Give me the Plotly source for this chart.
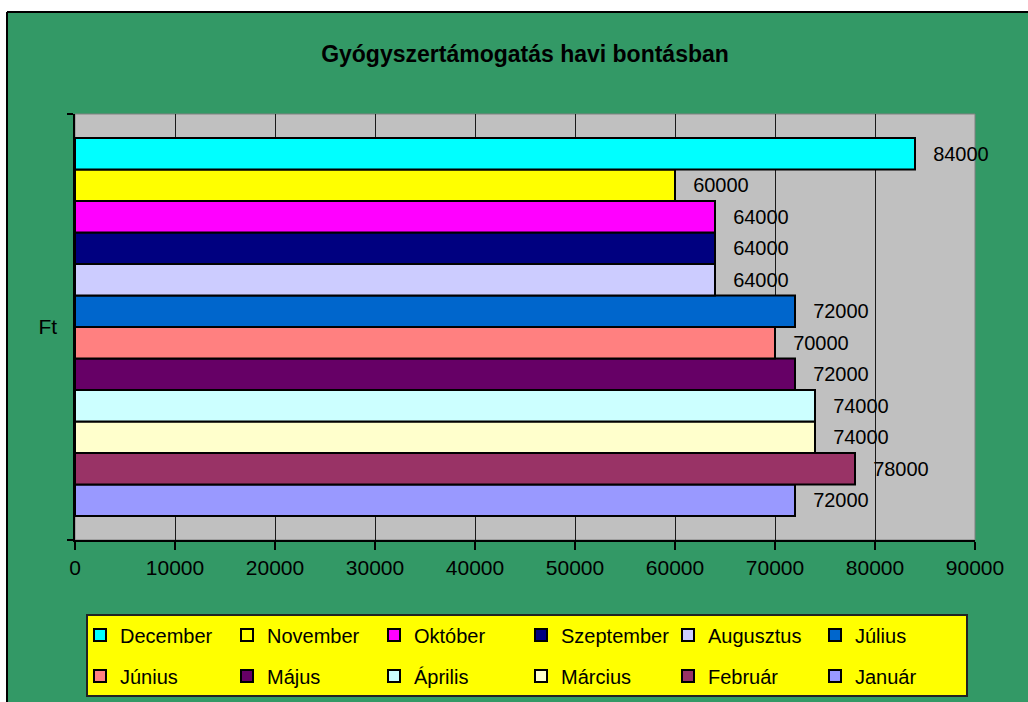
import plotly.graph_objects as go

category = ["Ft"]
months = ["Január", "Február", "Március", "Április", "Május", "Június",
          "Július", "Augusztus", "Szeptember", "Október", "November", "December"]
values = [72000, 78000, 74000, 74000, 72000, 70000,
          72000, 64000, 64000, 64000, 60000, 84000]
colors = ["#9999FF", "#993366", "#FFFFCC", "#CCFFFF", "#660066", "#FF8080",
          "#0066CC", "#CCCCFF", "#000080", "#FF00FF", "#FFFF00", "#00FFFF"]
x_ticks = [0, 10000, 20000, 30000, 40000, 50000, 60000, 70000, 80000, 90000]
title_text = "Gyógyszertámogatás havi bontásban"

FONT = "Liberation Sans, Arial, sans-serif"
W, H = 1028, 702
L, R, T, B = 75, 53, 114, 162
pw, ph = W - L - R, H - T - B


def px(x):
    return (x - L) / pw


def py(y):
    return (H - B - y) / ph


fig = go.Figure()
for i, (m, v, c) in enumerate(zip(months, values, colors)):
    fig.add_trace(go.Bar(
        y=category, x=[v], name=m, orientation="h",
        marker=dict(color=c, line=dict(color="black", width=2)),
        text=["\u00a0\u00a0\u2009" + str(v)], textposition="outside",
        textfont=dict(size=20, color="black", family=FONT),
        constraintext="none", cliponaxis=False,
        legend="legend2" if i < 6 else "legend",
    ))

shapes = [
    # white outer frame strips
    dict(type="rect", xref="paper", yref="paper", x0=px(0), x1=px(7), y0=py(H), y1=py(0),
         fillcolor="white", line=dict(width=0), layer="above"),
    dict(type="rect", xref="paper", yref="paper", x0=px(0), x1=px(W), y0=py(12), y1=py(0),
         fillcolor="white", line=dict(width=0), layer="above"),
    dict(type="line", xref="paper", yref="paper", x0=px(7), x1=px(7), y0=py(H), y1=py(12),
         line=dict(color="black", width=2), layer="above"),
    dict(type="line", xref="paper", yref="paper", x0=px(7), x1=px(W), y0=py(12), y1=py(12),
         line=dict(color="black", width=2), layer="above"),
    # plot area border
    dict(type="rect", xref="paper", yref="paper", x0=0, x1=1, y0=0, y1=1,
         line=dict(color="#808080", width=1), fillcolor="rgba(0,0,0,0)", layer="below"),
    # legend box
    dict(type="rect", xref="paper", yref="paper", x0=px(87), x1=px(967), y0=py(696), y1=py(615),
         fillcolor="#FFFF00", line=dict(color="#222222", width=2), layer="above"),
]

legend_common = dict(
    orientation="h", xanchor="left", yanchor="middle", x=px(80),
    bgcolor="rgba(0,0,0,0)", borderwidth=0, traceorder="reversed",
    font=dict(size=20, color="black", family=FONT), entrywidth=102,
)

fig.update_layout(
    width=W, height=H,
    margin=dict(l=L, r=R, t=T, b=B, pad=0, autoexpand=False),
    paper_bgcolor="#339966", plot_bgcolor="#C0C0C0",
    font=dict(family=FONT, color="black", size=20),
    title=dict(text="<b>" + title_text + "</b>", font=dict(size=23, color="black", family=FONT),
               x=0.5, xref="paper", xanchor="center", y=1 - 54 / H, yref="container", yanchor="middle"),
    barmode="group", bargap=0.1127, bargroupgap=0,
    showlegend=True,
    legend=dict(y=py(635), **legend_common),
    legend2=dict(y=py(676), **legend_common),
    shapes=shapes,
    xaxis=dict(range=[0, 90000], tickvals=x_ticks, tickformat="d", ticks="outside", ticklen=8,
               tickcolor="black", tickwidth=1.5, showline=True, linecolor="black", linewidth=1.5,
               showgrid=True, gridcolor="#1a1a1a", gridwidth=1, zeroline=False,
               tickfont=dict(size=21, color="black", family=FONT), fixedrange=True),
    yaxis=dict(type="category", ticks="outside", tickson="boundaries", ticklen=6,
               tickcolor="black", tickwidth=1.5, showline=True, linecolor="black", linewidth=1.5,
               showgrid=False, zeroline=False, ticklabelstandoff=12,
               tickfont=dict(size=21, color="black", family=FONT), fixedrange=True),
)

fig.write_html("out.html", config={"displayModeBar": False},
               post_script="document.body.style.margin='0';document.body.style.overflow='hidden';")
